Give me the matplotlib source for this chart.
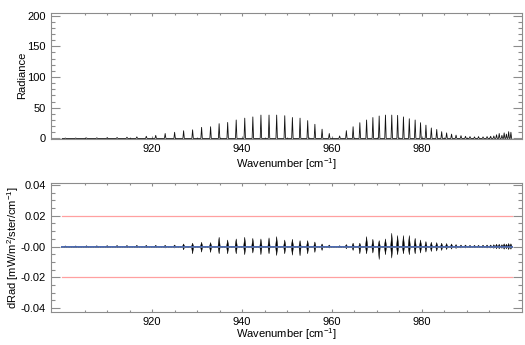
import numpy as np
import matplotlib
matplotlib.use("Agg")
import matplotlib.pyplot as plt

plt.rcParams['font.family'] = ['Liberation Sans', 'DejaVu Sans']
plt.rcParams['mathtext.fontset'] = 'custom'
plt.rcParams['mathtext.rm'] = 'Liberation Sans'
plt.rcParams['mathtext.it'] = 'Liberation Sans:italic'

# line centres [cm-1], peak radiance, residual up / down (x 1e-3)
line_pos = [900.7, 903.0, 905.4, 907.7, 910.0, 912.2, 914.4, 916.6, 918.7, 920.8,
            922.9, 925.0, 927.0, 929.0, 931.0, 933.0, 934.9, 936.8, 938.7, 940.6,
            942.4, 944.2, 946.0, 947.7, 949.5, 951.2, 952.9, 954.6, 956.2, 957.8,
            959.4,
            961.7, 963.2, 964.7, 966.2, 967.7, 969.1, 970.5, 971.9, 973.3, 974.6,
            975.9, 977.2, 978.5, 979.7, 980.9, 982.1, 983.3, 984.4, 985.5, 986.6,
            987.6, 988.7, 989.7, 990.7, 991.7, 992.6, 993.6, 994.5, 995.3, 996.0,
            996.6, 997.2, 997.8, 998.3, 998.8, 999.3, 999.8]
line_height = [0.5, 0.6, 0.8, 1.0, 1.2, 1.5, 2.0, 2.5, 3.5, 5,
               8, 10, 12.5, 14, 18, 19, 24, 26, 30, 33,
               35, 38, 38, 38, 37, 34, 33, 29, 23, 15,
               8,
               4, 12.6, 19, 25.6, 30, 34, 36.5, 38, 38, 37.5,
               35, 32, 30, 25.6, 21.6, 17, 14.6, 11, 9, 7,
               5.4, 4.5, 3.5, 3, 2.5, 3, 2.5, 3, 3.5, 4,
               6, 8, 5, 9, 7, 11, 10]
res_up = [0.4, 0.4, 0.5, 0.5, 0.6, 0.7, 0.7, 0.8, 0.8, 0.8,
          0.8, 1.0, 1.7, 2.2, 2.8, 2.6, 6.1, 4.3, 5.0, 6.1,
          5.4, 5.0, 5.7, 6.5, 4.3, 4.8, 3.9, 3.9, 3.0, 1.7,
          1.0,
          0.5, 1.3, 2.2, 2.2, 6.5, 4.8, 3.9, 5.0, 8.7, 7.2,
          7.2, 7.2, 5.4, 4.3, 3.3, 2.8, 2.6, 2.2, 2.0, 1.7,
          1.3, 1.0, 1.0, 0.8, 0.8, 0.8, 0.9, 1.0, 1.0, 1.2,
          1.5, 1.5, 1.2, 1.8, 1.5, 2.0, 1.8]
res_down = [0.4, 0.4, 0.5, 0.5, 0.6, 0.7, 0.7, 0.8, 0.8, 0.8,
            1.0, 1.0, 2.2, 4.8, 3.7, 3.9, 4.8, 4.8, 4.8, 5.4,
            4.3, 5.4, 4.8, 5.9, 4.8, 5.7, 6.1, 4.8, 3.9, 2.6,
            1.0,
            0.5, 1.5, 2.6, 4.8, 4.8, 4.3, 8.5, 5.4, 7.6, 5.4,
            4.8, 5.4, 4.8, 4.3, 3.7, 3.3, 3.0, 2.6, 2.0, 1.7,
            1.3, 1.0, 1.0, 0.8, 0.8, 0.8, 0.9, 1.0, 1.0, 1.2,
            1.5, 1.5, 1.2, 1.8, 1.5, 2.0, 1.8]

x_range = [900, 1000]
limit = 0.02
major_x = [920, 940, 960, 980]
minor_x = [v for v in range(905, 1000, 5) if v not in major_x]
rad_ticks = [0, 50, 100, 150, 200]
rad_labels = ['0', '50', '100', '150', '200']
drad_ticks = [-0.04, -0.02, 0.0, 0.02, 0.04]
drad_labels = ['-0.04', '-0.02', '-0.00', '0.02', '0.04']

axcol = '#8c8c8c'
hw = 0.16   # half width of a drawn line
dw = 0.25   # half width of a residual blob

fig = plt.figure(figsize=[5.25, 3.45], dpi=100)
ax1 = fig.add_axes([0.0971, 0.597, 0.8966, 0.3667])
ax2 = fig.add_axes([0.0971, 0.0965, 0.8966, 0.373])

# spectrum as narrow peaks
sx = [x_range[0]]
sy = [0]
for c, h in zip(line_pos, line_height):
    sx += [c - hw, c, c + hw]
    sy += [0, h, 0]
sx.append(x_range[1])
sy.append(0)
ax1.plot(sx, sy, color='#111111', lw=0.6)
ax1.set_ylim(-1, 205)
ax1.set_yticks(rad_ticks)
ax1.set_yticklabels(rad_labels)
ax1.set_yticks(np.arange(0, 201, 10), minor=True)
ax1.set_ylabel('Radiance')
ax1.yaxis.set_label_coords(-0.05, 0.5)

# residuals
ax2.plot(x_range, [limit, limit], color='#ffa0a0', lw=0.9)
ax2.plot(x_range, [-limit, -limit], color='#ffa0a0', lw=0.9)
ax2.plot(x_range, [0, 0], color='#4a68b0', lw=1.4)
ax2.plot(x_range, [0, 0], color='#808080', lw=0.7, dashes=(1, 1.5))
for c, u, d in zip(line_pos, res_up, res_down):
    ax2.fill([c - dw, c, c + dw, c], [0, u * 1e-3, 0, -d * 1e-3],
             color='black', lw=0.3)
ax2.set_ylim(-0.0424, 0.0413)
ax2.set_yticks(drad_ticks)
ax2.set_yticklabels(drad_labels)
ax2.set_yticks(np.arange(-0.04, 0.0401, 0.005), minor=True)
ax2.set_ylabel('dRad [mW/m$^2$/ster/cm$^{-1}$]')
ax2.yaxis.set_label_coords(-0.063, 0.5)

for ax in (ax1, ax2):
    ax.set_xlim(897.5, 1002.2)
    ax.set_xticks(major_x)
    ax.set_xticks(minor_x, minor=True)
    ax.set_xlabel('Wavenumber [cm$^{-1}$]')
    for s in ax.spines.values():
        s.set_color(axcol)
        s.set_linewidth(0.8)
    ax.tick_params(which='both', direction='in', top=True, right=True,
                   color=axcol, labelsize=8, width=0.8, pad=3.6)
    ax.tick_params(axis='y', which='major', length=6.5)
    ax.tick_params(axis='y', which='minor', length=3.2)
    ax.tick_params(axis='x', which='major', length=2.2)
    ax.tick_params(axis='x', which='minor', length=1.4)
    ax.xaxis.label.set_size(8)
    ax.yaxis.label.set_size(8)

ax1.xaxis.set_label_coords(0.5, -0.135)
ax2.xaxis.set_label_coords(0.5, -0.115)

fig.savefig('out.png', dpi=100)
